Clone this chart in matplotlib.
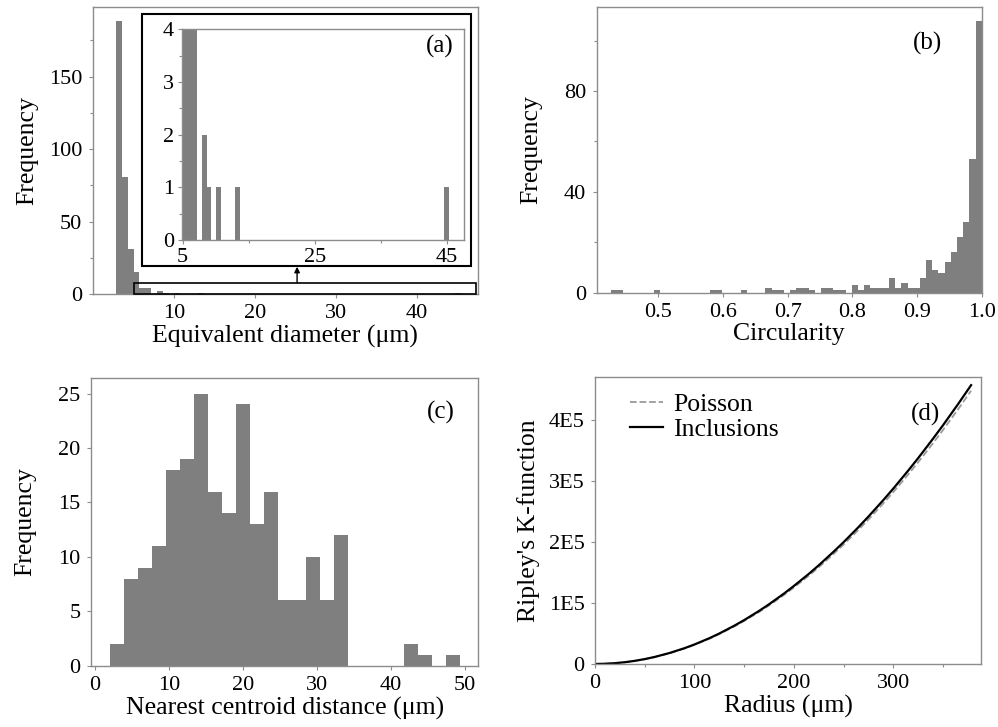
"""Inclusion statistics: size, shape, spacing and Ripley's K."""

import matplotlib

matplotlib.use("Agg")
import matplotlib.pyplot as plt
import numpy as np
from matplotlib.patches import Rectangle

# (a) equivalent diameter histogram (um)
diam_start = 2.87
diam_width = 0.72
diam_counts = [188, 81, 31, 15, 4, 4, 0, 2, 1, 0, 1, 0, 0, 0, 1] + [0] * 43 + [1]

# (b) circularity histogram, 60 bins from 0.427 to 1.0
circ_lo, circ_hi, circ_nbins = 0.427, 1.0, 60
circ_counts = [
    1, 1, 0, 0, 0, 0, 0, 1, 0, 0,
    0, 0, 0, 0, 0, 0, 1, 1, 0, 0,
    0, 1, 0, 0, 0, 2, 1, 1, 0, 1,
    2, 2, 1, 0, 2, 2, 1, 1, 0, 3,
    1, 3, 2, 2, 2, 6, 2, 4, 2, 2,
    6, 13, 9, 8, 12, 16, 22, 28, 53, 108,
]

# (c) nearest centroid distance histogram (um)
dist_start = 2.03
dist_width = 1.89
dist_counts = [2, 8, 9, 11, 18, 19, 25, 16, 14, 24, 13, 16, 6, 6, 10, 6, 12,
               0, 0, 0, 0, 2, 1, 0, 1]

# (d) Ripley's K-function
radius = [0, 10, 20, 30, 40, 50, 60, 75, 90, 100, 115, 125, 140, 150, 165, 175,
          190, 200, 215, 225, 240, 250, 265, 275, 290, 300, 315, 325, 340, 350,
          365, 378]
k_poisson = [0, 310, 1260, 2830, 5030, 7850, 11300, 17700, 25400, 31400, 41500,
             49100, 61600, 70700, 85500, 96200, 113400, 125700, 145200, 159000,
             181000, 196300, 220600, 237600, 264200, 282700, 311700, 331800,
             363200, 384800, 418500, 448900]
k_inclusions = [0, 320, 1290, 2890, 5130, 8010, 11550, 18050, 25950, 32050,
                42350, 50100, 62850, 72150, 87250, 98150, 115700, 128250,
                148150, 162250, 184700, 200300, 225100, 242450, 269600, 288450,
                318050, 338550, 370600, 392650, 427050, 458000]

BAR = "#7f7f7f"
SPINE = "#8c8c8c"
LABEL_SIZE = 18.5
TICK_SIZE = 16

plt.rcParams["font.family"] = ["Liberation Serif", "DejaVu Serif"]


def style_axes(ax, tick_size=TICK_SIZE):
    for sp in ax.spines.values():
        sp.set_color(SPINE)
        sp.set_linewidth(1.0)
    ax.tick_params(which="both", color=SPINE, labelsize=tick_size, length=3,
                   width=0.8, pad=4.5)
    ax.tick_params(which="minor", length=2.5)


fig = plt.figure(figsize=(9.98, 7.27), dpi=100)

# ---- (a) ----
ax_a = fig.add_axes([0.0929, 0.5956, 0.386, 0.3948])
diam_edges = diam_start + diam_width * np.arange(len(diam_counts) + 1)
ax_a.stairs(diam_counts, diam_edges, fill=True, color=BAR, linewidth=0)
ax_a.set_xlim(0, 47.5)
ax_a.set_ylim(0, 198)
ax_a.set_xticks([10, 20, 30, 40])
ax_a.set_yticks([0, 50, 100, 150])
ax_a.set_yticks([25, 75, 125, 175], minor=True)
style_axes(ax_a)
ax_a.set_xlabel("Equivalent diameter (μm)", fontsize=LABEL_SIZE, labelpad=1)
ax_a.set_ylabel("Frequency", fontsize=LABEL_SIZE, labelpad=8)
ax_a.add_patch(Rectangle((5.1, 0), 42.2, 7.8, fill=False, edgecolor="black",
                         linewidth=1.2, clip_on=False, zorder=5))
ax_a.annotate("", xy=(25.2, 18.8), xytext=(25.2, 7.8),
              arrowprops=dict(arrowstyle="-|>", color="black", lw=1.0,
                              mutation_scale=8, shrinkA=0, shrinkB=0),
              annotation_clip=False)

# inset frame and inset axes
fig.patches.append(Rectangle((0.142, 0.6341), 0.33, 0.3462, transform=fig.transFigure,
                             fill=False, edgecolor="black", linewidth=1.5, zorder=4))
ax_in = fig.add_axes([0.1821, 0.6699, 0.2832, 0.2898])
ax_in.stairs(diam_counts, diam_edges, fill=True, color=BAR, linewidth=0)
ax_in.set_xlim(4.85, 47.7)
ax_in.set_ylim(0, 4)
ax_in.set_xticks([5, 25, 45])
ax_in.set_xticks([15, 35], minor=True)
ax_in.set_yticks([0, 1, 2, 3, 4])
ax_in.set_yticks([0.5, 1.5, 2.5, 3.5], minor=True)
style_axes(ax_in, tick_size=TICK_SIZE)
ax_in.tick_params(axis="both", which="major", pad=2.5)
ax_in.text(0.914, 0.917, "(a)", transform=ax_in.transAxes, fontsize=18,
           ha="center", va="center")

# ---- (b) ----
ax_b = fig.add_axes([0.5979, 0.5974, 0.3858, 0.3934])
circ_edges = np.linspace(circ_lo, circ_hi, circ_nbins + 1)
ax_b.stairs(circ_counts, circ_edges, fill=True, color=BAR, linewidth=0)
ax_b.set_xlim(0.405, 1.0)
ax_b.set_ylim(0, 113.5)
ax_b.set_xticks([0.5, 0.6, 0.7, 0.8, 0.9, 1.0])
ax_b.set_yticks([0, 40, 80])
ax_b.set_yticks([20, 60, 100], minor=True)
style_axes(ax_b)
ax_b.set_xlabel("Circularity", fontsize=LABEL_SIZE, labelpad=1)
ax_b.set_ylabel("Frequency", fontsize=LABEL_SIZE, labelpad=16)
ax_b.text(0.86, 0.87, "(b)", transform=ax_b.transAxes, fontsize=18,
          ha="center", va="center")

# ---- (c) ----
ax_c = fig.add_axes([0.0912, 0.0843, 0.3881, 0.3953])
dist_edges = dist_start + dist_width * np.arange(len(dist_counts) + 1)
ax_c.stairs(dist_counts, dist_edges, fill=True, color=BAR, linewidth=0)
ax_c.set_xlim(-0.5, 51.8)
ax_c.set_ylim(0, 26.4)
ax_c.set_xticks([0, 10, 20, 30, 40, 50])
ax_c.set_yticks([0, 5, 10, 15, 20, 25])
style_axes(ax_c)
ax_c.set_xlabel("Nearest centroid distance (μm)", fontsize=LABEL_SIZE, labelpad=1)
ax_c.set_ylabel("Frequency", fontsize=LABEL_SIZE, labelpad=16)
ax_c.text(0.904, 0.88, "(c)", transform=ax_c.transAxes, fontsize=18,
          ha="center", va="center")

# ---- (d) ----
ax_d = fig.add_axes([0.5962, 0.0867, 0.3868, 0.3944])
ax_d.plot(radius, k_poisson, color="#9a9a9a", linestyle="--", linewidth=1.3,
          label="Poisson")
ax_d.plot(radius, k_inclusions, color="black", linewidth=1.6, label="Inclusions")
ax_d.set_xlim(0, 388)
ax_d.set_ylim(0, 4.71e5)
ax_d.set_xticks([0, 100, 200, 300])
ax_d.set_xticks([50, 150, 250, 350], minor=True)
ax_d.set_yticks([0, 1e5, 2e5, 3e5, 4e5])
ax_d.set_yticklabels(["0", "1E5", "2E5", "3E5", "4E5"])
style_axes(ax_d)
ax_d.set_xlabel("Radius (μm)", fontsize=LABEL_SIZE, labelpad=1)
ax_d.set_ylabel("Ripley's K-function", fontsize=LABEL_SIZE, labelpad=6)
ax_d.legend(loc="upper left", frameon=False, fontsize=LABEL_SIZE, handlelength=1.3,
            handletextpad=0.4, labelspacing=0.1, borderaxespad=0.2,
            bbox_to_anchor=(0.05, 1.0))
ax_d.text(0.855, 0.87, "(d)", transform=ax_d.transAxes, fontsize=18,
          ha="center", va="center")

fig.savefig("out.png", dpi=100)
